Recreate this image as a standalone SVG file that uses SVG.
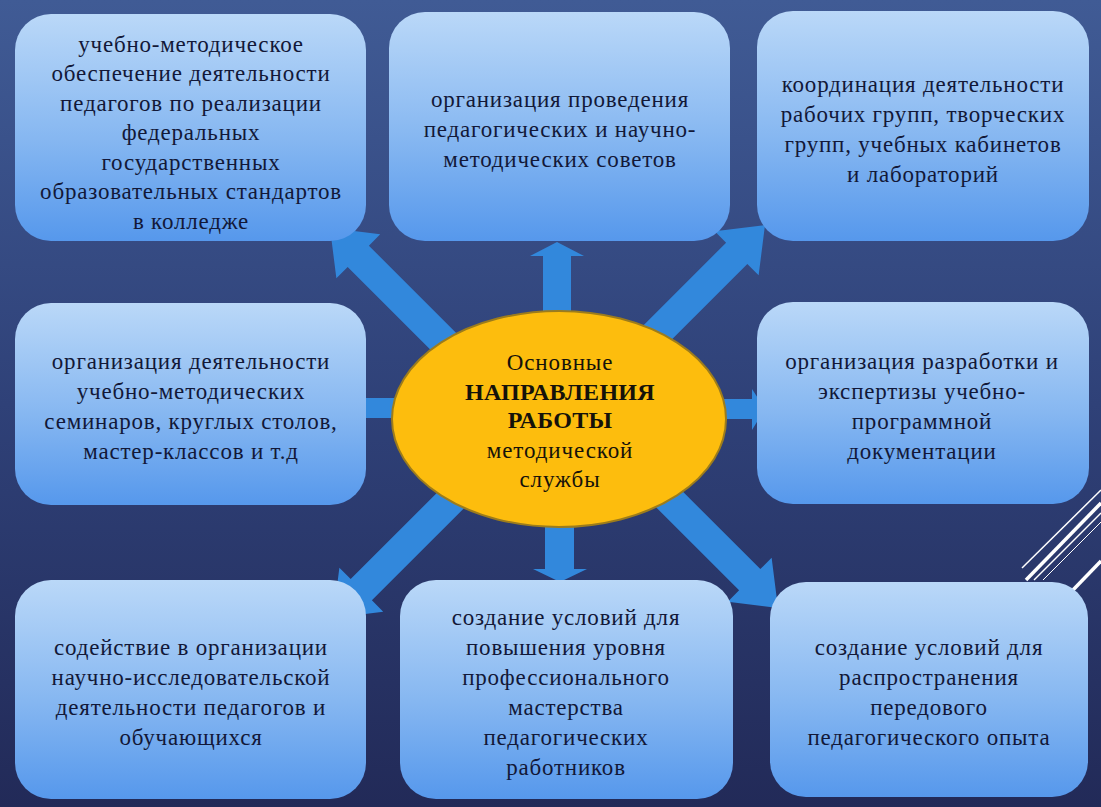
<svg xmlns="http://www.w3.org/2000/svg" width="1101" height="807" viewBox="0 0 1101 807">
<defs>
<linearGradient id="bg" x1="0" y1="0" x2="0" y2="1">
<stop offset="0" stop-color="#405b95"/>
<stop offset="0.5" stop-color="#2f4178"/>
<stop offset="1" stop-color="#222a58"/>
</linearGradient>
<linearGradient id="boxg" x1="0" y1="0" x2="0" y2="1">
<stop offset="0" stop-color="#bad8f8"/>
<stop offset="0.55" stop-color="#86b7f1"/>
<stop offset="1" stop-color="#5698ec"/>
</linearGradient>
<style>
.box{fill:url(#boxg);}
.t{font-family:"Liberation Serif","Times New Roman",serif;font-size:23px;fill:#121838;text-anchor:middle;letter-spacing:0.8px;}
.c{font-family:"Liberation Serif","Times New Roman",serif;font-size:23px;fill:#15120a;text-anchor:middle;letter-spacing:0.9px;}
.cb{font-weight:bold;font-size:24px;letter-spacing:0.3px;}
.arr{fill:#3288dc;}
.deco{stroke:#ffffff;fill:none;}
</style>
</defs>
<rect x="0" y="0" width="1101" height="807" fill="url(#bg)"/>
<g id="decor">
<line class="deco" x1="1022" y1="568" x2="1101" y2="490" stroke-width="1.5"/>
<line class="deco" x1="1026" y1="580" x2="1101" y2="503" stroke-width="3.5"/>
<line class="deco" x1="1034" y1="580" x2="1101" y2="513" stroke-width="1.5"/>
<line class="deco" x1="1043" y1="580" x2="1101" y2="522" stroke-width="1"/>
<line class="deco" x1="1073" y1="590" x2="1101" y2="561" stroke-width="3.5"/>
</g>
<g id="connectors">
<polygon class="arr" points="543,320 543,256 530,256 557,242 584,256 571,256 571,320"/>
<polygon class="arr" points="545,515 545,569 533,569 560,582 587,569 574,569 574,515"/>
<polygon class="arr" points="400,398 359,398 359,387 347,408 359,430 359,418 400,418"/>
<polygon class="arr" points="715,399 752,399 752,389 765,409 752,430 752,419 715,419"/>
<polygon class="arr" transform="translate(330,228) rotate(225)" points="-190,-15 -40,-15 -40,-31 0,0 -40,31 -40,15 -190,15"/>
<polygon class="arr" transform="translate(765,225) rotate(-45)" points="-190,-15 -40,-15 -40,-31 0,0 -40,31 -40,15 -190,15"/>
<polygon class="arr" transform="translate(333,618) rotate(135)" points="-190,-15 -40,-15 -40,-31 0,0 -40,31 -40,15 -190,15"/>
<polygon class="arr" transform="translate(778,608) rotate(45)" points="-190,-15 -40,-15 -40,-31 0,0 -40,31 -40,15 -190,15"/>
</g>
<g id="center">
<ellipse cx="559" cy="419" rx="167" ry="108" fill="#fdbd0d" stroke="#9c7c1c" stroke-width="2"/>
<text class="c" x="560" y="370">Основные</text>
<text class="c cb" x="560" y="400">НАПРАВЛЕНИЯ</text>
<text class="c cb" x="560" y="428">РАБОТЫ</text>
<text class="c" x="560" y="458">методической</text>
<text class="c" x="560" y="487">службы</text>
</g>
<g id="box1">
<rect class="box" x="15" y="14" width="351" height="227" rx="36"/>
<text class="t" x="191" y="52">учебно-методическое</text>
<text class="t" x="191" y="81">обеспечение деятельности</text>
<text class="t" x="191" y="111">педагогов по реализации</text>
<text class="t" x="191" y="140">федеральных</text>
<text class="t" x="191" y="170">государственных</text>
<text class="t" x="191" y="199">образовательных стандартов</text>
<text class="t" x="191" y="229">в колледже</text>
</g>
<g id="box2">
<rect class="box" x="389" y="12" width="341" height="229" rx="36"/>
<text class="t" x="560" y="107">организация проведения</text>
<text class="t" x="560" y="137">педагогических и научно-</text>
<text class="t" x="560" y="167">методических советов</text>
</g>
<g id="box3">
<rect class="box" x="757" y="11" width="332" height="230" rx="36"/>
<text class="t" x="923" y="92">координация деятельности</text>
<text class="t" x="923" y="122">рабочих групп, творческих</text>
<text class="t" x="923" y="152">групп, учебных кабинетов</text>
<text class="t" x="923" y="182">и лабораторий</text>
</g>
<g id="box4">
<rect class="box" x="15" y="303" width="351" height="202" rx="36"/>
<text class="t" x="191" y="369">организация деятельности</text>
<text class="t" x="191" y="399">учебно-методических</text>
<text class="t" x="191" y="429">семинаров, круглых столов,</text>
<text class="t" x="191" y="459">мастер-классов и т.д</text>
</g>
<g id="box5">
<rect class="box" x="757" y="302" width="332" height="202" rx="36"/>
<text class="t" x="922" y="369">организация разработки и</text>
<text class="t" x="922" y="399">экспертизы учебно-</text>
<text class="t" x="922" y="429">программной</text>
<text class="t" x="922" y="459">документации</text>
</g>
<g id="box6">
<rect class="box" x="15" y="580" width="351" height="219" rx="36"/>
<text class="t" x="191" y="655">содействие в организации</text>
<text class="t" x="191" y="685">научно-исследовательской</text>
<text class="t" x="191" y="715">деятельности педагогов и</text>
<text class="t" x="191" y="745">обучающихся</text>
</g>
<g id="box7">
<rect class="box" x="400" y="580" width="333" height="219" rx="36"/>
<text class="t" x="566" y="625">создание условий для</text>
<text class="t" x="566" y="655">повышения уровня</text>
<text class="t" x="566" y="685">профессионального</text>
<text class="t" x="566" y="715">мастерства</text>
<text class="t" x="566" y="745">педагогических</text>
<text class="t" x="566" y="775">работников</text>
</g>
<g id="box8">
<rect class="box" x="770" y="582" width="318" height="215" rx="36"/>
<text class="t" x="929" y="655">создание условий для</text>
<text class="t" x="929" y="685">распространения</text>
<text class="t" x="929" y="715">передового</text>
<text class="t" x="929" y="745">педагогического опыта</text>
</g>
</svg>
